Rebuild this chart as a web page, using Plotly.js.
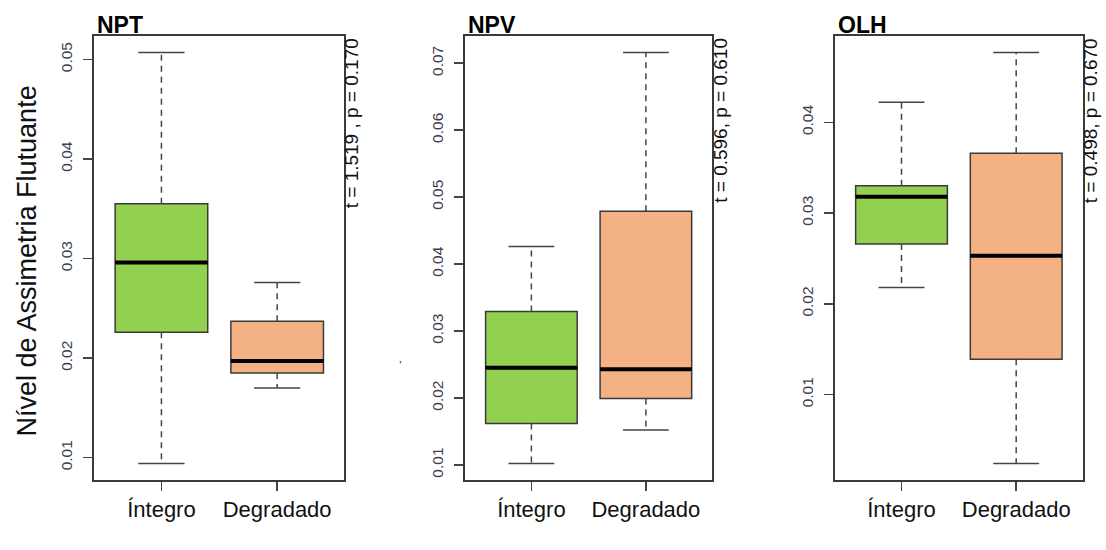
<!DOCTYPE html>
<html>
<head>
<meta charset="utf-8">
<script src="https://cdn.plot.ly/plotly-3.0.1.min.js"></script>
<style>
  html, body { margin: 0; padding: 0; background: #ffffff; }
  #chart { width: 1106px; height: 550px; }
</style>
</head>
<body>
<div id="chart"></div>
<script>
// Groups compared in every panel
const groups = ['Íntegro', 'Degradado'];
const panelNames = ['NPT', 'NPV', 'OLH'];
const testLabels = ['t = 1.519 , p = 0.170', 't = 0.596, p = 0.610', 't = 0.498, p = 0.670'];

// NPT: five-number summaries per group
const nptLower  = [0.0094, 0.0170];
const nptQ1     = [0.0226, 0.0185];
const nptMedian = [0.0296, 0.0197];
const nptQ3     = [0.0355, 0.0237];
const nptUpper  = [0.0507, 0.0276];

// NPV
const npvLower  = [0.0102, 0.0152];
const npvQ1     = [0.0162, 0.0199];
const npvMedian = [0.0245, 0.0243];
const npvQ3     = [0.0329, 0.0479];
const npvUpper  = [0.0426, 0.0716];

// OLH
const olhLower  = [0.0218, 0.0024];
const olhQ1     = [0.0266, 0.0139];
const olhMedian = [0.0318, 0.0253];
const olhQ3     = [0.0330, 0.0366];
const olhUpper  = [0.0422, 0.0477];

const fills = ['#92d050', '#f4b183'];

const panels = [
  { lower: nptLower, q1: nptQ1, median: nptMedian, q3: nptQ3, upper: nptUpper },
  { lower: npvLower, q1: npvQ1, median: npvMedian, q3: npvQ3, upper: npvUpper },
  { lower: olhLower, q1: olhQ1, median: olhMedian, q3: olhQ3, upper: olhUpper }
];

const W = 1106, H = 550;
const font = 'Liberation Sans, Arial, Helvetica, sans-serif';
const xDomains = [[94.3, 344.3], [465, 712.3], [835, 1082.7]];
const yDomain = [1 - 480 / H, 1 - 36 / H];
const boxHalf = 0.4, capHalf = 0.2;
const outline = '#3a3a3a';

const traces = [];
const layout = {
  width: W, height: H,
  margin: { l: 0, r: 0, t: 0, b: 0 },
  paper_bgcolor: '#ffffff',
  plot_bgcolor: '#ffffff',
  showlegend: false,
  boxmode: 'overlay',
  font: { family: font, color: '#111111' },
  annotations: []
};

panels.forEach((p, i) => {
  const n = i === 0 ? '' : String(i + 1);
  const xa = 'x' + n, ya = 'y' + n;
  const pos = groups.map((g, k) => k + 1);

  // boxes (fences set to the quartiles; whiskers are drawn separately dashed)
  groups.forEach((g, k) => {
    traces.push({
      type: 'box', xaxis: xa, yaxis: ya,
      x: [pos[k]], q1: [p.q1[k]], median: [p.median[k]], q3: [p.q3[k]],
      lowerfence: [p.q1[k]], upperfence: [p.q3[k]],
      width: 2 * boxHalf, whiskerwidth: 0, boxpoints: false,
      fillcolor: fills[k], line: { color: outline, width: 1.5 },
      hoverinfo: 'skip'
    });
  });

  // dashed whiskers, solid caps, heavy medians
  const wx = [], wy = [];
  const cx = [], cy = [];
  const mx = [], my = [];
  groups.forEach((g, k) => {
    wx.push(pos[k], pos[k], null, pos[k], pos[k], null);
    wy.push(p.q3[k], p.upper[k], null, p.q1[k], p.lower[k], null);
    cx.push(pos[k] - capHalf, pos[k] + capHalf, null, pos[k] - capHalf, pos[k] + capHalf, null);
    cy.push(p.upper[k], p.upper[k], null, p.lower[k], p.lower[k], null);
    mx.push(pos[k] - boxHalf, pos[k] + boxHalf, null);
    my.push(p.median[k], p.median[k], null);
  });
  traces.push({ type: 'scatter', mode: 'lines', xaxis: xa, yaxis: ya, x: wx, y: wy,
    line: { color: '#444444', width: 1.5, dash: '6px,5px' }, hoverinfo: 'skip', connectgaps: false });
  traces.push({ type: 'scatter', mode: 'lines', xaxis: xa, yaxis: ya, x: cx, y: cy,
    line: { color: '#444444', width: 1.5 }, hoverinfo: 'skip' });
  traces.push({ type: 'scatter', mode: 'lines', xaxis: xa, yaxis: ya, x: mx, y: my,
    line: { color: '#000000', width: 4 }, hoverinfo: 'skip' });

  // y range extended 4% beyond the data, as in base R graphics
  const lo = Math.min(...p.lower), hi = Math.max(...p.upper);
  const pad = 0.04 * (hi - lo);

  layout['xaxis' + n] = {
    domain: [xDomains[i][0] / W, xDomains[i][1] / W],
    anchor: ya, range: [0.42, 2.58],
    tickmode: 'array', tickvals: pos, ticktext: groups,
    ticks: 'outside', ticklen: 9, tickwidth: 1.5, tickcolor: '#444444',
    tickfont: { family: font, size: 22, color: '#111111' },
    showline: true, mirror: true, linecolor: outline, linewidth: 2,
    showgrid: false, zeroline: false, fixedrange: true
  };
  layout['yaxis' + n] = {
    domain: yDomain, anchor: xa, range: [lo - pad, hi + pad],
    tick0: 0, dtick: 0.01, tickformat: '.2f', tickangle: -90,
    ticks: 'outside', ticklen: 9, tickwidth: 1.5, tickcolor: '#444444',
    ticklabelstandoff: 5,
    tickfont: { family: font, size: 15.5, color: '#3a3f50' },
    showline: true, mirror: true, linecolor: outline, linewidth: 2,
    showgrid: false, zeroline: false, fixedrange: true
  };

  // panel title
  layout.annotations.push({
    xref: 'paper', yref: 'paper', x: (xDomains[i][0] + 1) / W, y: 1 - 25 / H,
    xanchor: 'left', yanchor: 'middle', showarrow: false,
    text: '<b>' + panelNames[i] + '</b>', font: { family: font, size: 23, color: '#000000' }
  });
  // test statistic on the right margin
  layout.annotations.push({
    xref: 'paper', yref: 'paper', x: (xDomains[i][1] + 8) / W, y: 1 - 36 / H,
    xanchor: 'center', yanchor: 'top', showarrow: false, textangle: -90,
    text: testLabels[i], font: { family: font, size: 19, color: '#111111' }
  });
});

// shared y-axis title
layout.annotations.push({
  xref: 'paper', yref: 'paper', x: 26 / W, y: 1 - 261.5 / H,
  xanchor: 'center', yanchor: 'middle', showarrow: false, textangle: -90,
  text: 'Nível de Assimetria Flutuante', font: { family: font, size: 27, color: '#111111' }
});
// small stray mark left of the NPV axis
layout.annotations.push({
  xref: 'paper', yref: 'paper', x: 400 / W, y: 1 - 366 / H,
  xanchor: 'center', yanchor: 'middle', showarrow: false,
  text: '’', font: { family: font, size: 12, color: '#333a55' }
});

Plotly.newPlot('chart', traces, layout, { displayModeBar: false, staticPlot: true });
</script>
</body>
</html>
